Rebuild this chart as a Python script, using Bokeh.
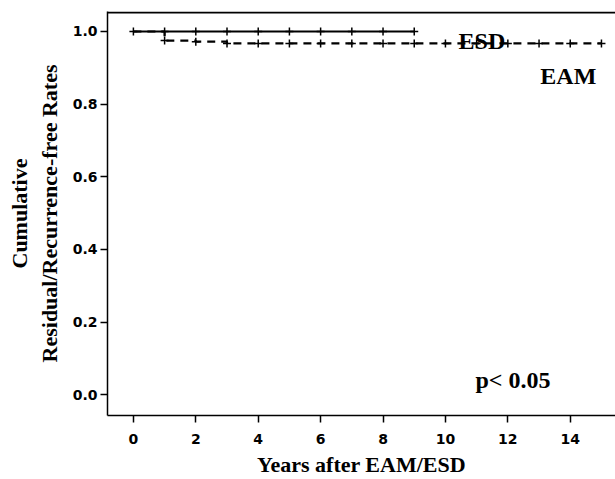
from bokeh.plotting import figure
from bokeh.models import Range1d, Label, FixedTicker
from bokeh.embed import file_html
from bokeh.resources import INLINE

# ---- data ----
x_ticks = [0, 2, 4, 6, 8, 10, 12, 14]
y_ticks = [0.0, 0.2, 0.4, 0.6, 0.8, 1.0]

esd_times = [0, 9]
esd_surv = [1.0, 1.0]
esd_censor_t = [0, 1, 2, 3, 4, 5, 6, 7, 8, 9]
esd_censor_s = [1.0, 1.0, 1.0, 1.0, 1.0, 1.0, 1.0, 1.0, 1.0, 1.0]

eam_times = [0, 1, 2, 3, 15]
eam_surv = [1.0, 0.975, 0.972, 0.967, 0.967]
eam_censor_t = [1, 2, 3, 4, 5, 6, 7, 8, 9, 10, 11, 12, 13, 14, 15]
eam_censor_s = [0.975, 0.972, 0.967, 0.967, 0.967, 0.967, 0.967, 0.967,
                0.967, 0.967, 0.967, 0.967, 0.967, 0.967, 0.967]

x_label = "Years after EAM/ESD"
y_label = "Cumulative\nResidual/Recurrence-free Rates"
p_text = "p< 0.05"

SERIF = "Liberation Serif"
SANS = "DejaVu Sans"

X0, X1 = -0.83, 15.45
Y0, Y1 = -0.057, 1.055

p = figure(width=615, height=479, output_backend="svg", toolbar_location=None,
           x_range=Range1d(X0, X1), y_range=Range1d(Y0, Y1),
           min_border_left=107, min_border_right=0, min_border_top=11,
           min_border_bottom=61)
p.outline_line_color = None
p.grid.visible = False
p.background_fill_color = "white"
p.border_fill_color = "white"

for ax in (p.xaxis[0], p.yaxis[0]):
    ax.axis_line_color = "black"
    ax.axis_line_width = 1.5
    ax.major_tick_line_color = "black"
    ax.major_tick_line_width = 1.5
    ax.major_tick_in = 0
    ax.major_tick_out = 7
    ax.minor_tick_line_color = None
    ax.major_label_text_font = SANS
    ax.major_label_text_font_style = "bold"
    ax.major_label_text_font_size = "14px"
    ax.major_label_text_color = "black"
    ax.axis_label_text_font = SERIF
    ax.axis_label_text_font_style = "bold"
    ax.axis_label_text_color = "black"

p.xaxis.ticker = FixedTicker(ticks=x_ticks)
p.yaxis.ticker = FixedTicker(ticks=y_ticks)
p.xaxis.major_label_standoff = 11
p.yaxis.major_label_standoff = 3
p.yaxis.major_label_overrides = {t: f"{t:.1f}" for t in y_ticks}

p.xaxis.axis_label = x_label
p.xaxis.axis_label_text_font_size = "22px"
p.xaxis.axis_label_standoff = 5
p.yaxis.axis_label = y_label
p.yaxis.axis_label_text_font_size = "22px"
p.yaxis.axis_label_standoff = 8

# top border of the plot box, just inside the frame
p.line([X0, X1], [Y1 - 0.003, Y1 - 0.003], line_color="black", line_width=2)

# ESD curve (solid)
p.line(esd_times, esd_surv, line_color="black", line_width=2.2)
p.scatter(esd_censor_t, esd_censor_s, marker="cross", size=8,
          line_color="black", line_width=1.5)

# EAM curve (dashed step)
p.step(eam_times, eam_surv, mode="after", line_color="black", line_width=2.2,
       line_dash="8 6")
p.scatter(eam_censor_t, eam_censor_s, marker="cross", size=8,
          line_color="black", line_width=1.5)

def lab(x, y, t, size):
    p.add_layout(Label(x=x, y=y, text=t, text_font=SERIF, text_font_style="bold",
                       text_font_size=size, text_color="black", text_align="left",
                       text_baseline="alphabetic"))

lab(10.42, 0.973, "ESD", "24px")
lab(13.04, 0.877, "EAM", "24px")
lab(10.96, 0.041, p_text, "24px")

open("out.html", "w").write(file_html(p, INLINE))
